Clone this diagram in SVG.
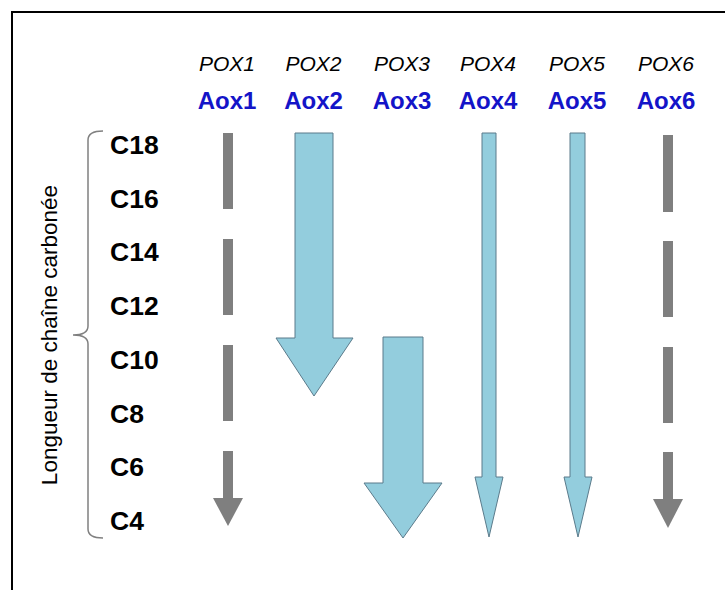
<svg xmlns="http://www.w3.org/2000/svg" width="725" height="590" viewBox="0 0 725 590">
<style>
.pox{font-family:"Liberation Sans",Arial,sans-serif;font-size:21px;font-style:italic;fill:#000;text-anchor:middle}
.aox{font-family:"Liberation Sans",Arial,sans-serif;font-size:24px;font-weight:bold;fill:#1414c8;text-anchor:middle}
.c{font-family:"Liberation Sans",Arial,sans-serif;font-size:26.5px;font-weight:bold;fill:#000}
.lbl{font-family:"Liberation Sans",Arial,sans-serif;font-size:22.5px;fill:#000;text-anchor:middle}
.gray{fill:#7f7f7f}
.blue{fill:#93cddd;stroke:#5b7b8b;stroke-width:1}
</style>
<rect x="0" y="0" width="725" height="590" fill="#fff"/>
<path d="M12,590 V12 H725" fill="none" stroke="#000" stroke-width="2"/>

<g id="headers">
<text class="pox" x="227" y="71">POX1</text>
<text class="pox" x="313.5" y="71">POX2</text>
<text class="pox" x="402" y="71">POX3</text>
<text class="pox" x="488" y="71">POX4</text>
<text class="pox" x="577" y="71">POX5</text>
<text class="pox" x="666" y="71">POX6</text>
<text class="aox" x="227" y="109">Aox1</text>
<text class="aox" x="313.5" y="109">Aox2</text>
<text class="aox" x="402" y="109">Aox3</text>
<text class="aox" x="488" y="109">Aox4</text>
<text class="aox" x="577" y="109">Aox5</text>
<text class="aox" x="666" y="109">Aox6</text>
</g>

<g id="axis">
<text class="c" x="110" y="154">C18</text>
<text class="c" x="110" y="207.7">C16</text>
<text class="c" x="110" y="261.4">C14</text>
<text class="c" x="110" y="315.1">C12</text>
<text class="c" x="110" y="368.8">C10</text>
<text class="c" x="110" y="422.5">C8</text>
<text class="c" x="110" y="476.2">C6</text>
<text class="c" x="110" y="530">C4</text>
<path d="M103,131 Q88,131 88,140 V326 Q88,335 73,335 Q88,335 88,344 V529 Q88,538 103,538" fill="none" stroke="#808080" stroke-width="1.5"/>
<text class="lbl" transform="translate(57,335) rotate(-90)">Longueur de chaîne carbonée</text>
</g>

<g id="connectors">
<g id="pox1-arrow">
<rect class="gray" x="223" y="133" width="10" height="76"/>
<rect class="gray" x="223" y="239" width="10" height="76"/>
<rect class="gray" x="223" y="345" width="10" height="76"/>
<rect class="gray" x="223" y="451" width="10" height="48"/>
<polygon class="gray" points="213,498 243,498 228,526"/>
</g>
<g id="aox2-arrow">
<polygon class="blue" points="295,133 333,133 333,338 353,338 314,396 276,338 295,338"/>
</g>
<g id="aox3-arrow">
<polygon class="blue" points="383,337 423,337 423,483 442,483 403,538 364,483 383,483"/>
</g>
<g id="aox4-arrow">
<polygon class="blue" points="482,133 496,133 496,477 503,477 489,537 475,477 482,477"/>
</g>
<g id="aox5-arrow">
<polygon class="blue" points="570,133 585,133 585,477 592,477 578,537 564,477 570,477"/>
</g>
<g id="pox6-arrow">
<rect class="gray" x="663" y="135" width="10" height="77"/>
<rect class="gray" x="663" y="241" width="10" height="76"/>
<rect class="gray" x="663" y="347" width="10" height="76"/>
<rect class="gray" x="663" y="452" width="10" height="48"/>
<polygon class="gray" points="653,499 683,499 668,528"/>
</g>
</g>
</svg>
